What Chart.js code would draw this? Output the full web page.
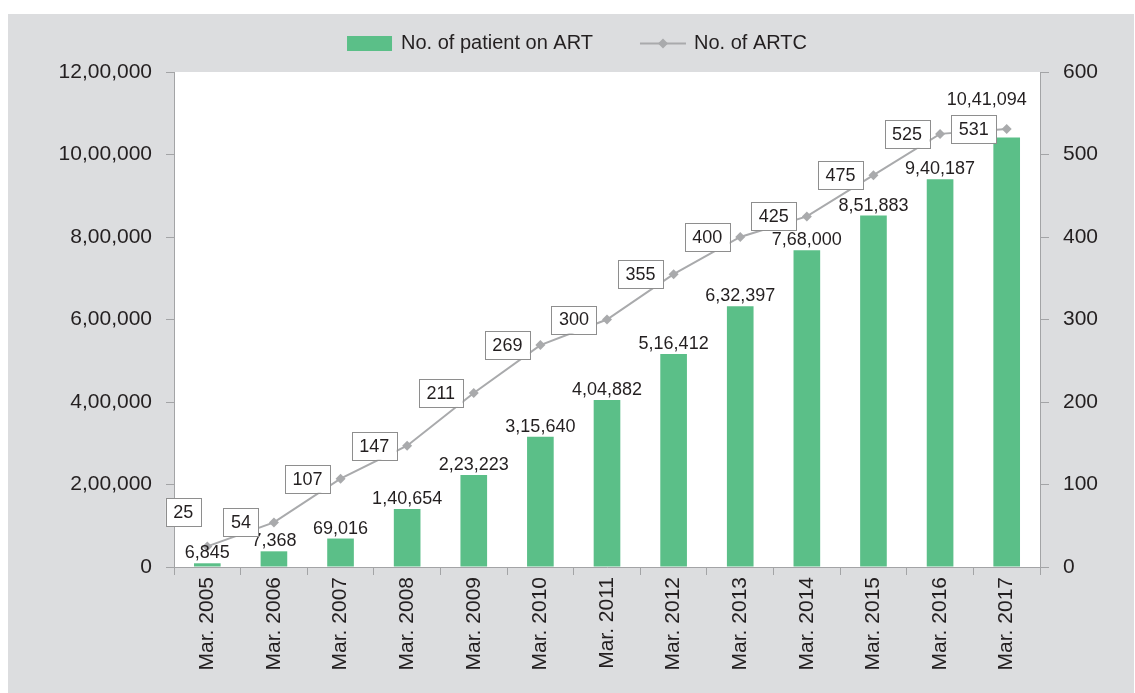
<!DOCTYPE html>
<html>
<head>
<meta charset="utf-8">
<title>ART patients and ARTC</title>
<script src="https://cdn.jsdelivr.net/npm/chart.js@4.4.1/dist/chart.umd.min.js"></script>
<style>
    html, body { margin: 0; padding: 0; background: #ffffff; }
    .panel {
        position: absolute;
        left: 8px;
        top: 14px;
        width: 1126px;
        height: 679px;
        background: #dcdddf;
    }
    #cnv-art { display: block; }
</style>
</head>
<body>
<div class="panel">
    <canvas id="cnv-art" width="1126" height="679"></canvas>
</div>
<script>
//--------------------------------------
// Data
//--------------------------------------
var years = ['Mar. 2005', 'Mar. 2006', 'Mar. 2007', 'Mar. 2008', 'Mar. 2009', 'Mar. 2010', 'Mar. 2011',
             'Mar. 2012', 'Mar. 2013', 'Mar. 2014', 'Mar. 2015', 'Mar. 2016', 'Mar. 2017'];
// numbers printed above the bars
var patientOnArt = [6845, 7368, 69016, 140654, 223223, 315640, 404882, 516412, 632397, 768000, 851883, 940187, 1041094];
// bar heights as drawn in the figure (first two bars are taller than their labels)
var barHeights = [9000, 38000, 69016, 140654, 223223, 315640, 404882, 516412, 632397, 768000, 851883, 940187, 1041094];
var artcCount = [25, 54, 107, 147, 211, 269, 300, 355, 400, 425, 475, 525, 531];
var leftTicks = [0, 200000, 400000, 600000, 800000, 1000000, 1200000];
var rightTicks = [0, 100, 200, 300, 400, 500, 600];

var GREEN = '#5bbf88';
var GREY_LINE = '#a9aaac';
var AXIS = '#a3a4a6';
var TEXT = '#231f20';
var FONT = '"Liberation Sans", Arial, sans-serif';

//--------------------------------------
// Helpers
//--------------------------------------
// indian grouping: 12,00,000
var fmtIN = function(n){
    var s = String(Math.round(n));
    if(s.length <= 3){ return s; }
    var last3 = s.slice(-3);
    var rest = s.slice(0, -3).replace(/\B(?=(\d{2})+(?!\d))/g, ',');
    return rest + ',' + last3;
};

//--------------------------------------
// Plugins
//--------------------------------------
var plotBackground = {
    id: 'plotBackground',
    beforeDraw: function(chart){
        var a = chart.chartArea;
        var ctx = chart.ctx;
        ctx.save();
        ctx.fillStyle = '#ffffff';
        ctx.fillRect(a.left, a.top, a.right - a.left, a.bottom - a.top);
        ctx.restore();
    }
};

var valueLabels = {
    id: 'valueLabels',
    afterDatasetsDraw: function(chart){
        var ctx = chart.ctx;
        ctx.save();
        ctx.font = '18px ' + FONT;
        ctx.fillStyle = TEXT;

        //bar numbers
        var bars = chart.getDatasetMeta(1).data;
        ctx.textAlign = 'center';
        ctx.textBaseline = 'alphabetic';
        bars.forEach(function(bar, i){
            var dx = 0, dy = 0;
            if(i === bars.length - 1){ dx = -20; dy = -28; }
            ctx.fillText(fmtIN(patientOnArt[i]), bar.x + dx, bar.y - 5 + dy);
        });

        //boxed ARTC numbers, left of each point
        var pts = chart.getDatasetMeta(0).data;
        ctx.textBaseline = 'middle';
        pts.forEach(function(pt, i){
            var txt = String(artcCount[i]);
            var cx = pt.x - 33, cy = pt.y;
            if(i === 0){ cx = pt.x - 24; cy = pt.y - 34; }
            var w = ctx.measureText(txt).width + 15;
            var h = 28;
            ctx.fillStyle = '#ffffff';
            ctx.fillRect(cx - w / 2, cy - h / 2, w, h);
            ctx.strokeStyle = '#8e8e8e';
            ctx.lineWidth = 1;
            ctx.strokeRect(Math.round(cx - w / 2) + 0.5, Math.round(cy - h / 2) + 0.5, Math.round(w), h);
            ctx.fillStyle = TEXT;
            ctx.fillText(txt, cx, cy + 1);
        });
        ctx.restore();
    }
};

var topLegend = {
    id: 'topLegend',
    afterDraw: function(chart){
        var ctx = chart.ctx;
        var items = [
            {text: 'No. of patient on ART', type: 'box'},
            {text: 'No. of ARTC', type: 'line'}
        ];
        ctx.save();
        ctx.font = '20px ' + FONT;
        var iconW = 46, gapText = 8, gapItem = 47;
        var total = 0;
        items.forEach(function(it, i){
            it.w = ctx.measureText(it.text).width;
            total += iconW + gapText + it.w + (i > 0 ? gapItem : 0);
        });
        var x = (chart.width - total) / 2 + 6;
        var y = 29.5;
        items.forEach(function(it){
            if(it.type === 'box'){
                ctx.fillStyle = GREEN;
                ctx.fillRect(x, y - 7.5, 45, 15);
            }else{
                ctx.strokeStyle = GREY_LINE;
                ctx.lineWidth = 2;
                ctx.beginPath();
                ctx.moveTo(x, y);
                ctx.lineTo(x + iconW, y);
                ctx.stroke();
                ctx.fillStyle = GREY_LINE;
                ctx.beginPath();
                ctx.moveTo(x + iconW / 2, y - 5);
                ctx.lineTo(x + iconW / 2 + 5, y);
                ctx.lineTo(x + iconW / 2, y + 5);
                ctx.lineTo(x + iconW / 2 - 5, y);
                ctx.closePath();
                ctx.fill();
            }
            ctx.fillStyle = TEXT;
            ctx.textAlign = 'left';
            ctx.textBaseline = 'middle';
            ctx.fillText(it.text, x + iconW + gapText, y);
            x += iconW + gapText + it.w + gapItem;
        });
        ctx.restore();
    }
};

//--------------------------------------
// Chart
//--------------------------------------
var setChart = function(){
    var cnv = document.getElementById('cnv-art');
    var tickFont = {family: FONT, size: 21};

    new Chart(cnv, {
        type: 'bar',
        data: {
            labels: years,
            datasets: [
                {
                    type: 'line',
                    label: 'No. of ARTC',
                    data: artcCount,
                    yAxisID: 'y1',
                    borderColor: GREY_LINE,
                    backgroundColor: GREY_LINE,
                    borderWidth: 2,
                    pointStyle: 'rectRot',
                    pointRadius: 5,
                    pointBorderWidth: 0,
                    tension: 0,
                    order: 0
                },
                {
                    label: 'No. of patient on ART',
                    data: barHeights,
                    yAxisID: 'y',
                    backgroundColor: GREEN,
                    barPercentage: 0.4,
                    categoryPercentage: 1,
                    order: 1
                }
            ]
        },
        options: {
            responsive: false,
            animation: false,
            devicePixelRatio: 1,
            layout: { padding: { top: 58, left: 0, right: 0, bottom: 0 } },
            plugins: {
                legend: { display: false },
                tooltip: { enabled: false }
            },
            scales: {
                x: {
                    offset: true,
                    grid: { drawOnChartArea: false, drawTicks: true, tickLength: 8, color: AXIS, offset: true },
                    border: { display: true, color: AXIS, width: 1 },
                    ticks: { font: tickFont, color: TEXT, maxRotation: 90, minRotation: 90, autoSkip: false, padding: 2 },
                    afterFit: function(s){ s.height = 126; }
                },
                y: {
                    position: 'left',
                    min: 0,
                    max: 1200000,
                    afterBuildTicks: function(s){ s.ticks = leftTicks.map(function(v){ return {value: v}; }); },
                    grid: { drawOnChartArea: false, tickLength: 8, color: AXIS },
                    border: { display: true, color: AXIS, width: 1 },
                    ticks: { font: tickFont, color: TEXT, padding: 14, callback: function(v){ return fmtIN(v); } },
                    afterFit: function(s){ s.width = 166; }
                },
                y1: {
                    position: 'right',
                    min: 0,
                    max: 600,
                    afterBuildTicks: function(s){ s.ticks = rightTicks.map(function(v){ return {value: v}; }); },
                    grid: { drawOnChartArea: false, tickLength: 9, color: AXIS },
                    border: { display: true, color: AXIS, width: 1 },
                    ticks: { font: tickFont, color: TEXT, padding: 14 },
                    afterFit: function(s){ s.width = 94; }
                }
            }
        },
        plugins: [plotBackground, valueLabels, topLegend]
    });
};

setChart();
</script>
</body>
</html>
